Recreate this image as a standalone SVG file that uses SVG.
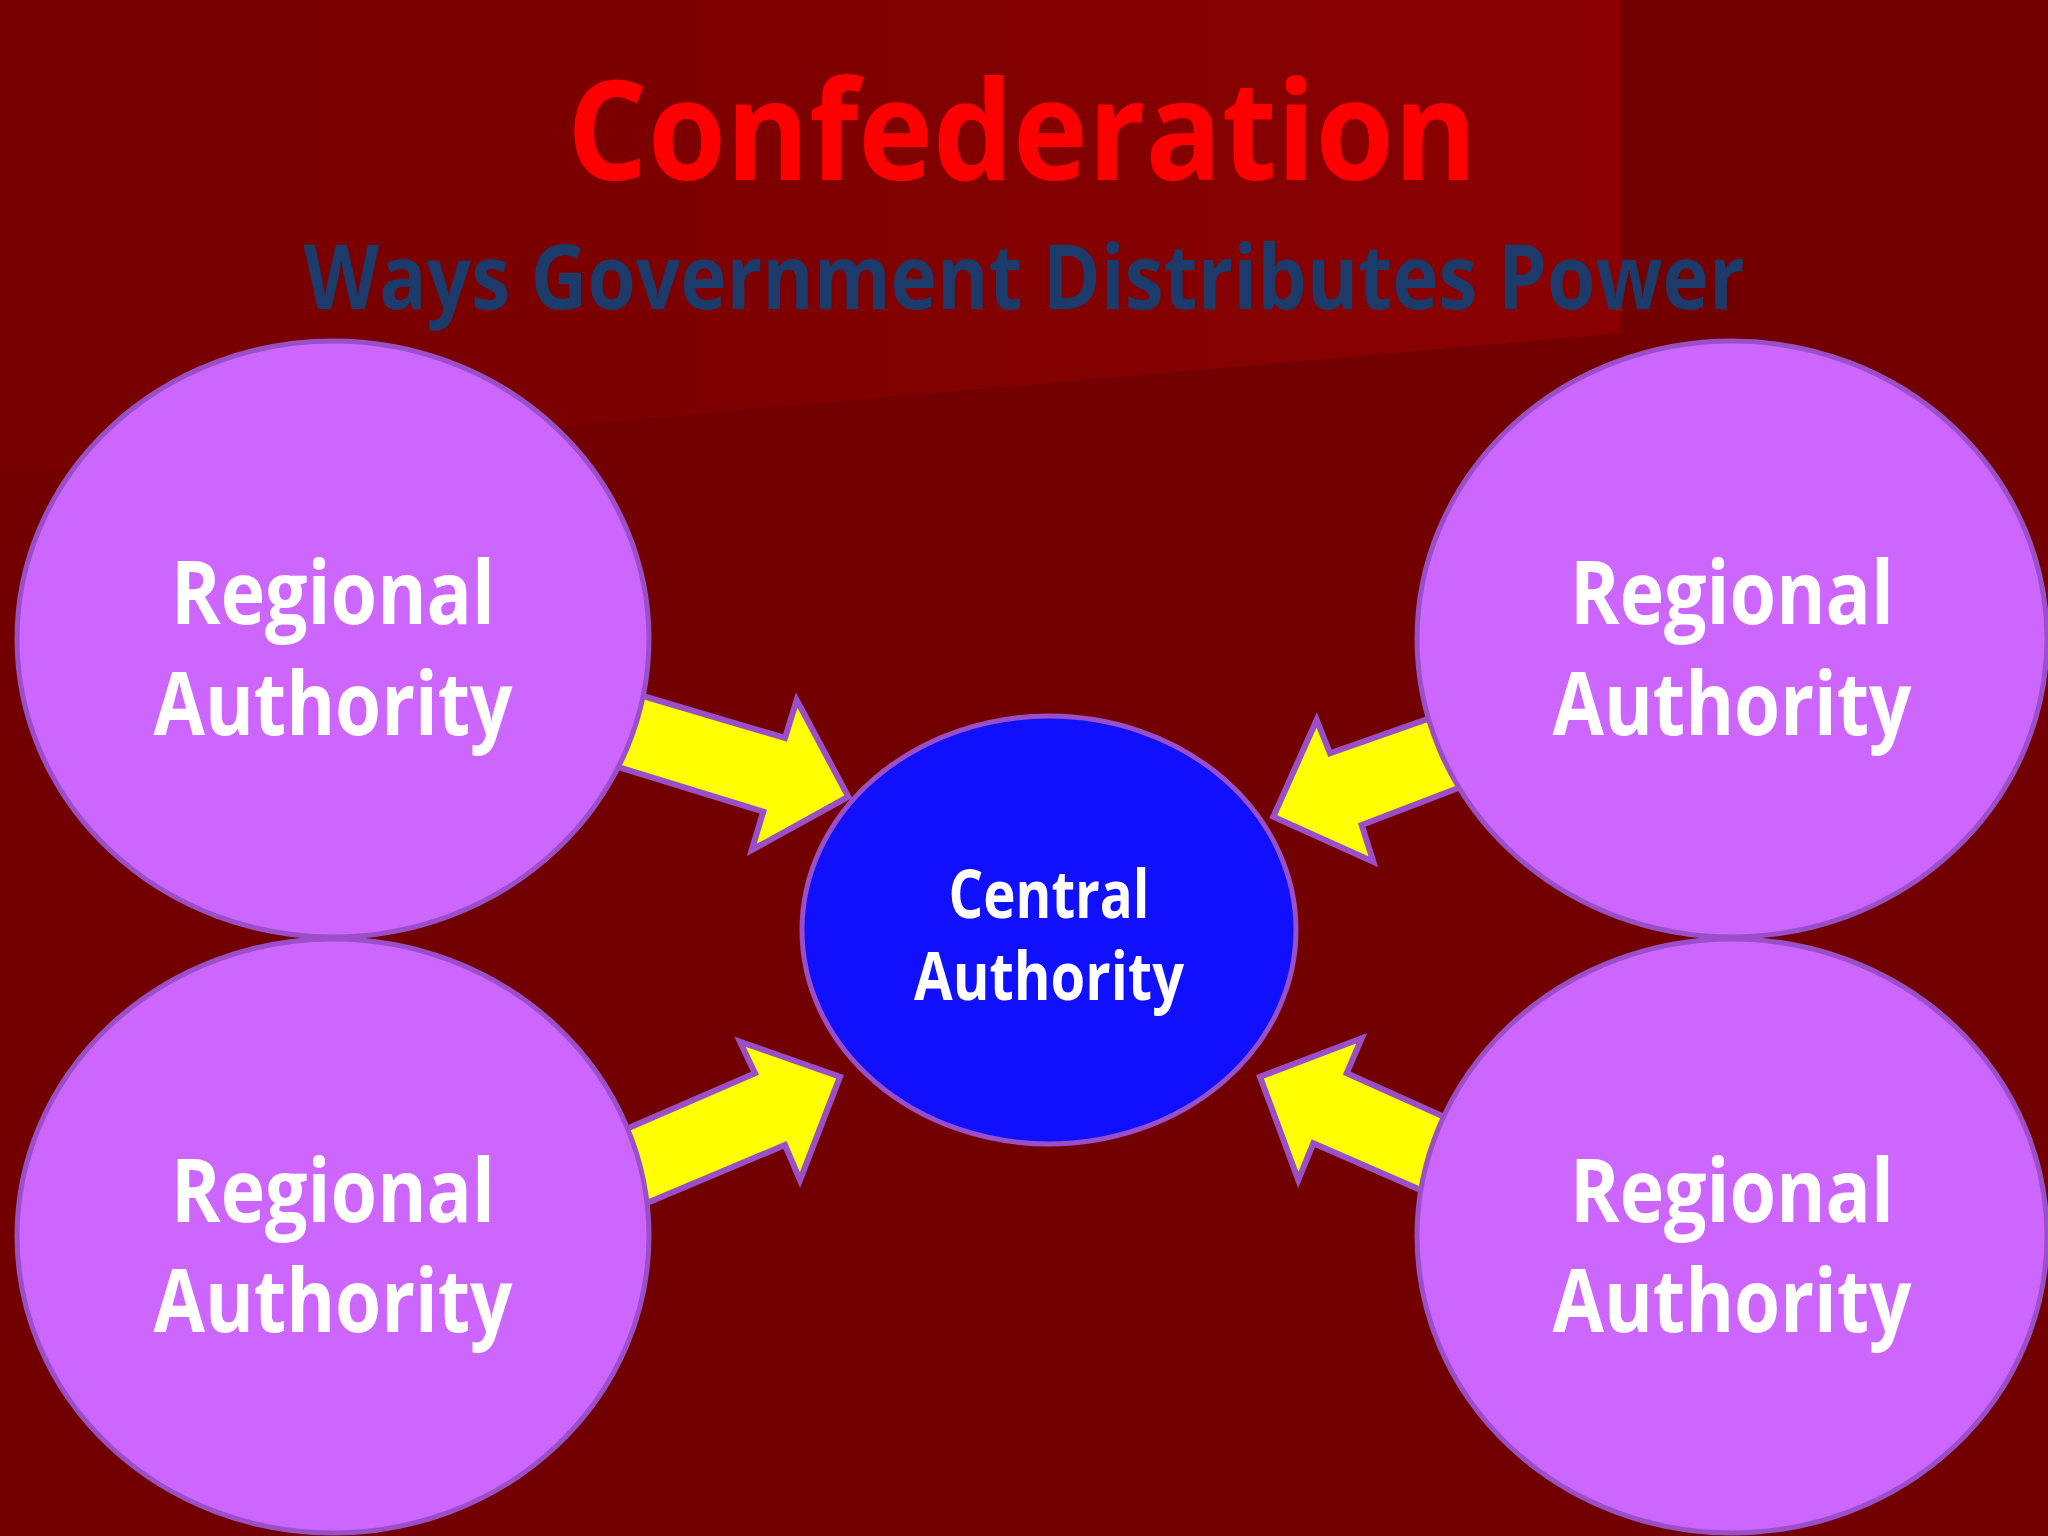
<svg xmlns="http://www.w3.org/2000/svg" width="2048" height="1536" viewBox="0 0 2048 1536">
<defs>
<linearGradient id="bgHi" x1="0" y1="0" x2="1622" y2="0" gradientUnits="userSpaceOnUse">
<stop offset="0" stop-color="#760000"/>
<stop offset="0.35" stop-color="#7c0000"/>
<stop offset="1" stop-color="#8a0000"/>
</linearGradient>
<style>
.reg{fill:#cc66ff;stroke:#9a4fc8;stroke-width:5}
.ctr{fill:#1010ff;stroke:#9a4fc8;stroke-width:5}
.arr{fill:#ffff00;stroke:#9a4fc8;stroke-width:6;stroke-linejoin:miter}
.lbl{font-family:"Open Sans","Noto Sans","DejaVu Sans",sans-serif;font-weight:700;fill:#ffffff;text-anchor:middle}
</style>
</defs>
<rect x="0" y="0" width="2048" height="1536" fill="#730000"/>
<polygon points="0,0 1622,0 1622,333 627,420 0,475" fill="url(#bgHi)"/>
<text x="1022" y="180" font-family="'Open Sans','Noto Sans',sans-serif" font-size="139" font-weight="700" fill="#ff0000" text-anchor="middle" textLength="910" lengthAdjust="spacingAndGlyphs">Confederation</text>
<text x="1024" y="309" font-family="'Open Sans','Noto Sans',sans-serif" font-size="90" font-weight="700" fill="#1c3a6a" text-anchor="middle" textLength="1441" lengthAdjust="spacingAndGlyphs">Ways Government Distributes Power</text>
<g id="connectors">
<polygon class="arr" points="589,680 785,738 796.7,700 848.3,796.7 751.7,850 763.3,811.7 566,751"/>
<polygon class="arr" points="576.6,1150.5 755,1073.3 740,1041.7 840,1076.7 800,1180 785,1145 593.3,1225.5"/>
<polygon class="arr" points="1481.6,700.1 1330,753.3 1316.7,720 1273.3,816.7 1373.3,861.7 1361.7,825 1509.9,768.4"/>
<polygon class="arr" points="1494.8,1139.5 1346.7,1073.3 1361.7,1038.3 1260,1076.7 1298.3,1180 1313.3,1143.3 1473.1,1212.8"/>
</g>
<g id="central">
<ellipse class="ctr" cx="1049" cy="930" rx="247" ry="214"/>
<text class="lbl" x="1049" y="918" font-size="66" textLength="201" lengthAdjust="spacingAndGlyphs">Central</text>
<text class="lbl" x="1049" y="1000" font-size="66" textLength="270" lengthAdjust="spacingAndGlyphs">Authority</text>
</g>
<g id="regional-tl">
<ellipse class="reg" cx="333" cy="639" rx="316" ry="298"/>
<text class="lbl" x="333" y="624" font-size="88" textLength="324" lengthAdjust="spacingAndGlyphs">Regional</text>
<text class="lbl" x="333" y="735" font-size="88" textLength="359" lengthAdjust="spacingAndGlyphs">Authority</text>
</g>
<g id="regional-bl">
<ellipse class="reg" cx="333" cy="1236" rx="316" ry="297"/>
<text class="lbl" x="333" y="1222" font-size="88" textLength="324" lengthAdjust="spacingAndGlyphs">Regional</text>
<text class="lbl" x="333" y="1332" font-size="88" textLength="359" lengthAdjust="spacingAndGlyphs">Authority</text>
</g>
<g id="regional-tr">
<ellipse class="reg" cx="1732" cy="639" rx="315" ry="298"/>
<text class="lbl" x="1732" y="624" font-size="88" textLength="324" lengthAdjust="spacingAndGlyphs">Regional</text>
<text class="lbl" x="1732" y="735" font-size="88" textLength="359" lengthAdjust="spacingAndGlyphs">Authority</text>
</g>
<g id="regional-br">
<ellipse class="reg" cx="1732" cy="1236" rx="315" ry="297"/>
<text class="lbl" x="1732" y="1222" font-size="88" textLength="324" lengthAdjust="spacingAndGlyphs">Regional</text>
<text class="lbl" x="1732" y="1332" font-size="88" textLength="359" lengthAdjust="spacingAndGlyphs">Authority</text>
</g>
</svg>
